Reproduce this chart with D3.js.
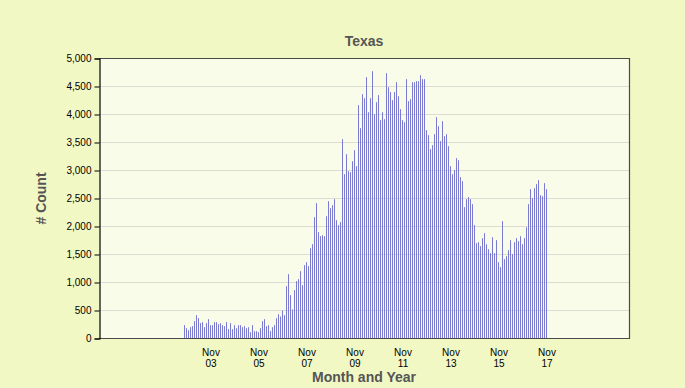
<!DOCTYPE html>
<html>
<head>
<meta charset="utf-8">
<script src="https://cdn.jsdelivr.net/npm/d3@7"></script>
<style>
  html, body { margin: 0; padding: 0; background: #f2f8c4; }
  svg { display: block; }
  text { font-family: "Liberation Sans", Arial, Helvetica, sans-serif; }
</style>
</head>
<body>
<svg id="chart" width="685" height="388"></svg>
<script>
// ---- Data ----
const chartTitle = "Texas";
const xAxisTitle = "Month and Year";
const yAxisTitle = "# Count";
// First bar month (Oct 2002), monthly bars thereafter
const startYear = 2002;
const startMonth = 10;
const counts = [
  238,184,149,202,220,309,417,363,274,292,202,274,345,238,238,292,292,256,274,238,
  220,292,167,274,167,238,184,238,238,202,220,184,202,113,238,131,131,113,184,309,
  345,220,238,131,202,238,363,434,
  393,500,417,934,1149,774,518,863,1024,1059,1202,952,1309,1363,1292,1613,1684,2167,2417,1899,
  1827,1845,1827,2184,2452,2327,2381,2488,2113,2024,2077,3559,2934,3291,2988,2970,3166,3363,3077,4166,
  3756,4363,4291,4666,4041,
  4291,4773,4006,4220,4345,3899,4041,3916,4738,4488,4399,4256,4399,4577,4327,4095,3899,3863,4631,4238,
  4274,4577,4577,4595,4595,4702,4631,4631,3720,3631,3381,3452,3649,3952,3791,3524,3881,3613,3649,3434,
  3077,2934,3006,3220,3184,
  2881,2809,2345,2488,2524,2488,2399,2024,1702,1720,1649,1792,1881,1684,1595,1524,1809,1524,1756,1363,
  1274,2095,1417,1470,1577,1756,1506,1720,1792,1738,1827,1684,1792,1988,2399,2666,2506,2684,2756,2827,
  2559,2541,2774,2666
];
const xTickMonth = "Nov";
const xTickYears = [2003, 2005, 2007, 2009, 2011, 2013, 2015, 2017];
const yTicks = [0, 500, 1000, 1500, 2000, 2500, 3000, 3500, 4000, 4500, 5000];

// ---- Layout ----
const svg = d3.select("#chart");
const plot = { left: 99, right: 629, top: 58.5, bottom: 338.5 };

// month index relative to first bar
const monthIndex = (year, month) => (year - startYear) * 12 + (month - startMonth);

const x = d3.scaleLinear().domain([-42.5, 222.5]).range([plot.left, plot.right]);
const y = d3.scaleLinear().domain([0, 5000]).range([plot.bottom, plot.top]);

// plot background
svg.append("rect")
  .attr("x", plot.left).attr("y", plot.top)
  .attr("width", plot.right - plot.left).attr("height", plot.bottom - plot.top)
  .attr("fill", "#f9fce8");

// grid lines
svg.append("g").selectAll("line").data(yTicks.filter(d => d > 0 && d < 5000)).join("line")
  .attr("x1", plot.left).attr("x2", plot.right)
  .attr("y1", d => y(d)).attr("y2", d => y(d))
  .attr("stroke", "#dcdcd2").attr("stroke-width", 1);

// bars
svg.append("g").selectAll("rect").data(counts).join("rect")
  .attr("x", (d, i) => x(i))
  .attr("width", 1)
  .attr("y", d => y(d))
  .attr("height", d => plot.bottom - y(d))
  .attr("fill", "#7b7bcf");

// frame (top, right, bottom)
svg.append("path")
  .attr("d", `M${plot.left},${plot.top}H${plot.right + 0.5}V${plot.bottom}H${plot.left}`)
  .attr("fill", "none").attr("stroke", "#4a4a4a").attr("stroke-width", 1.2);

// y axis
const yAxis = d3.axisLeft(y).tickValues(yTicks).tickSize(5).tickPadding(3)
  .tickFormat(d3.format(","));
const gy = svg.append("g").attr("transform", `translate(${plot.left + 0.5},0)`).call(yAxis);
gy.select(".domain").attr("stroke", "#000").attr("stroke-width", 1.2);
gy.selectAll(".tick line").attr("stroke", "#000");
gy.selectAll(".tick text").attr("font-size", 10).attr("fill", "#000")
  .attr("font-family", "'Liberation Sans', Arial, sans-serif");

// x axis labels (two lines)
const xTicks = xTickYears.map(yr => monthIndex(yr, 11));
const xAxis = d3.axisBottom(x).tickValues(xTicks).tickSize(0).tickFormat(() => "");
const gx = svg.append("g").attr("transform", `translate(0.5,${plot.bottom})`).call(xAxis);
gx.select(".domain").remove();
gx.selectAll(".tick").each(function(d, i) {
  const t = d3.select(this);
  t.append("text").attr("y", 17).attr("text-anchor", "middle")
    .attr("font-size", 10).attr("fill", "#000").text(xTickMonth);
  t.append("text").attr("y", 28).attr("text-anchor", "middle")
    .attr("font-size", 10).attr("fill", "#000")
    .text(String(xTickYears[i] % 100).padStart(2, "0"));
});

// titles
svg.append("text").attr("x", (plot.left + plot.right) / 2).attr("y", 46)
  .attr("text-anchor", "middle").attr("font-size", 14).attr("font-weight", "bold")
  .attr("fill", "#555").text(chartTitle);
svg.append("text").attr("x", (plot.left + plot.right) / 2).attr("y", 382)
  .attr("text-anchor", "middle").attr("font-size", 14).attr("font-weight", "bold")
  .attr("fill", "#555").text(xAxisTitle);
svg.append("text")
  .attr("transform", `translate(46,${(plot.top + plot.bottom) / 2}) rotate(-90)`)
  .attr("text-anchor", "middle").attr("font-size", 14).attr("font-weight", "bold")
  .attr("fill", "#555").text(yAxisTitle);
</script>
</body>
</html>
